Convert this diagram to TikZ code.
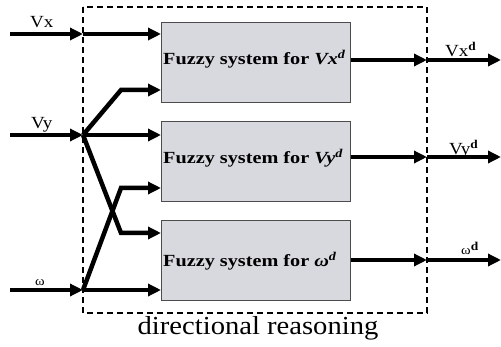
\documentclass[tikz,border=0pt]{standalone}
\usepackage{fontspec}
\setmainfont{Liberation Serif}
\usetikzlibrary{arrows.meta}
\definecolor{boxfill}{RGB}{215,217,222}
\begin{document}
\begin{tikzpicture}[x=1pt,y=-1pt,
  sig/.style={line width=4.5pt,-{Triangle[length=13pt,width=12pt]}},
  fbox/.style={draw=black!70,fill=boxfill,line width=0.8pt,minimum width=189pt,minimum height=80pt,anchor=north west,inner sep=0pt},
  btxt/.style={font=\bfseries\fontsize{17}{17}\selectfont,anchor=base west,inner sep=0pt,xscale=1.19},
  lbl/.style={font=\fontsize{17}{17}\selectfont,inner sep=0pt,anchor=base west,xscale=1.12}
]
\useasboundingbox (0,0) rectangle (501,347);
\node[fbox] (b1) at (161,22) {};
\node[fbox] (b2) at (161,121) {};
\node[fbox] (b3) at (161,220) {};
\node[btxt] (t1) at (163,65) {Fuzzy system for \textit{Vx}\textsuperscript{\textit{d}}};
\node[btxt] (t2) at (163,164) {Fuzzy system for \textit{Vy}\textsuperscript{\textit{d}}};
\node[btxt] (t3) at (163,267) {Fuzzy system for \textit{ω}\textsuperscript{\textit{d}}};
\draw[line width=1.6pt,dash pattern=on 6pt off 4pt] (83,7) rectangle (427,313);
\node[font=\fontsize{26}{26}\selectfont,anchor=base,inner sep=0pt,xscale=1.1] (dr) at (258,335) {directional reasoning};
% inputs
\coordinate (ix0) at (10,34); \coordinate (ix1) at (83,34); \coordinate (ix2) at (161,34);
\coordinate (iy0) at (10,135); \coordinate (iy1) at (83,135); \coordinate (iy2) at (161,135);
\coordinate (iw0) at (10,290); \coordinate (iw1) at (83,290); \coordinate (iw2) at (161,290);
\draw[sig] (ix0) -- (ix1);
\draw[sig] (ix1) -- (ix2);
\draw[sig] (iy0) -- (iy1);
\draw[sig] (iy1) -- (iy2);
\draw[sig] (iw0) -- (iw1);
\draw[sig] (iw1) -- (iw2);
\draw[sig] (iy1) -- (121,90) -- (161,90);
\draw[sig] (iy1) -- (121,233) -- (161,233);
\draw[sig] (iw1) -- (121,188) -- (161,188);
% outputs
\coordinate (o1) at (427,60); \coordinate (o2) at (427,157); \coordinate (o3) at (427,260);
\draw[sig] (b1.east |- o1) -- (o1);
\draw[sig] (o1) -- (501,60);
\draw[sig] (b2.east |- o2) -- (o2);
\draw[sig] (o2) -- (501,157);
\draw[sig] (b3.east |- o3) -- (o3);
\draw[sig] (o3) -- (501,260);
% labels
\node[lbl] (lx) at (30,28) {Vx};
\node[lbl] (ly) at (31,129) {Vy};
\node[lbl,font=\fontsize{13}{13}\selectfont] (lw) at (35,286) {ω};
\node[lbl] (lxd) at (445,57) {Vx\textsuperscript{\bfseries d}};
\node[lbl] (lyd) at (449,155) {Vy\textsuperscript{\bfseries d}};
\node[lbl,font=\fontsize{13}{13}\selectfont] (lwd) at (461,255) {ω\textsuperscript{\bfseries\fontsize{12}{12}\selectfont d}};
\end{tikzpicture}
\end{document}
